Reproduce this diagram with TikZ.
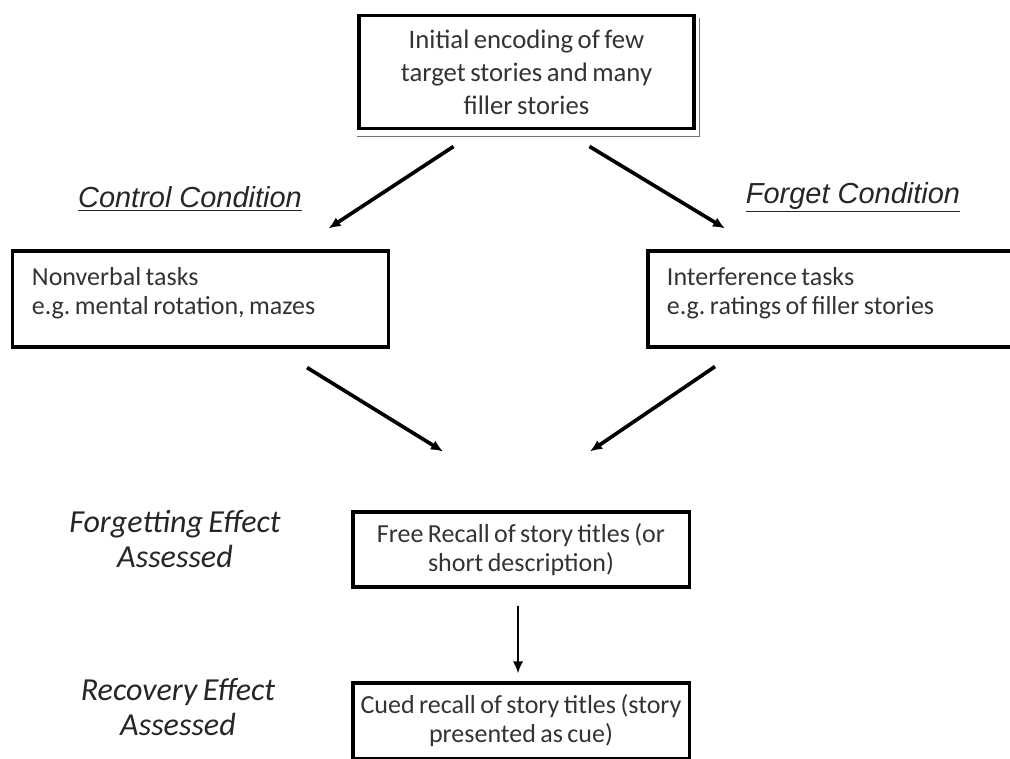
\documentclass[tikz,border=0pt]{standalone}
\usepackage{fontspec}
\setmainfont{Carlito}[WordSpace=0.75]
\newfontfamily\condfont{Liberation Sans}
\usetikzlibrary{arrows.meta,calc}
\frenchspacing

\begin{document}
\begin{tikzpicture}
[x=0.025cm,y=-0.025cm,
 box/.style={draw,line width=2.2pt,text=black!80,inner sep=0pt,
   font=\fontsize{18.5}{20.6}\selectfont},
 sidebox/.style={box,align=flush left,text width=8.425cm,inner xsep=0.475cm,minimum height=2.4cm,
   text depth=1.11cm},
 arr/.style={line width=2.6pt,-{Latex[length=0.3cm,width=0.26cm]}},
 cond/.style={text=black!85,font=\condfont\itshape\fontsize{20.6}{24}\selectfont},
 effect/.style={align=center,text=black!85,font=\itshape\fontsize{22.8}{24.5}\selectfont}]
\useasboundingbox (0,0) rectangle (1010,758);
% boxes
\node[box,align=center,minimum width=8.375cm,minimum height=2.825cm,line width=2.8pt,
  font=\fontsize{19}{23.4}\selectfont] (init) at (526.5,72)
  {Initial encoding of few\\target stories and many\\filler stories};
\draw[line width=0.6pt,black!55] ($(init.south west)+(0,6)$) -- ($(init.south east)+(3,6)$)
  -- ($(init.north east)+(3,4)$);
\node[sidebox] (nonverbal) at (200.5,299) {Nonverbal tasks\\e.g. mental rotation, mazes};
\node[sidebox] (interf) at (835.5,299) {Interference tasks\\e.g. ratings of filler stories};
\node[box,align=center,minimum width=8.4cm,minimum height=1.875cm] (recall) at (521,549.5)
  {Free Recall of story titles (or\\short description)};
\node[box,align=center,minimum width=8.4cm,minimum height=1.9cm] (cued) at (521,721)
  {Cued recall of story titles (story\\presented as cue)};
% labels
\node[cond] (control) at (190,199) {\underline{Control Condition}};
\node[cond] (forget) at (853,197) {\underline{Forget Condition}};
\node[effect] (forgetting) at (175,539) {Forgetting Effect\\Assessed};
\node[effect] (recovery) at (178,707) {Recovery Effect\\Assessed};
% arrows
\draw[arr] ($(init.south)+(-73,16)$) -- ($(nonverbal.north)+(128,-21)$);
\draw[arr] ($(init.south)+(63,16)$) -- ($(interf.north)+(-110.5,-21)$);
\draw[arr] ($(nonverbal.south)+(106.5,19)$) -- ($(recall.north)+(-78,-59)$);
\draw[arr] ($(interf.south)+(-120.5,18)$) -- ($(recall.north)+(69,-59)$);
\draw[arr,line width=2pt] ($(recall.south)+(-3,17)$) -- ($(cued.north)+(-3,-8)$);
\end{tikzpicture}
\end{document}
